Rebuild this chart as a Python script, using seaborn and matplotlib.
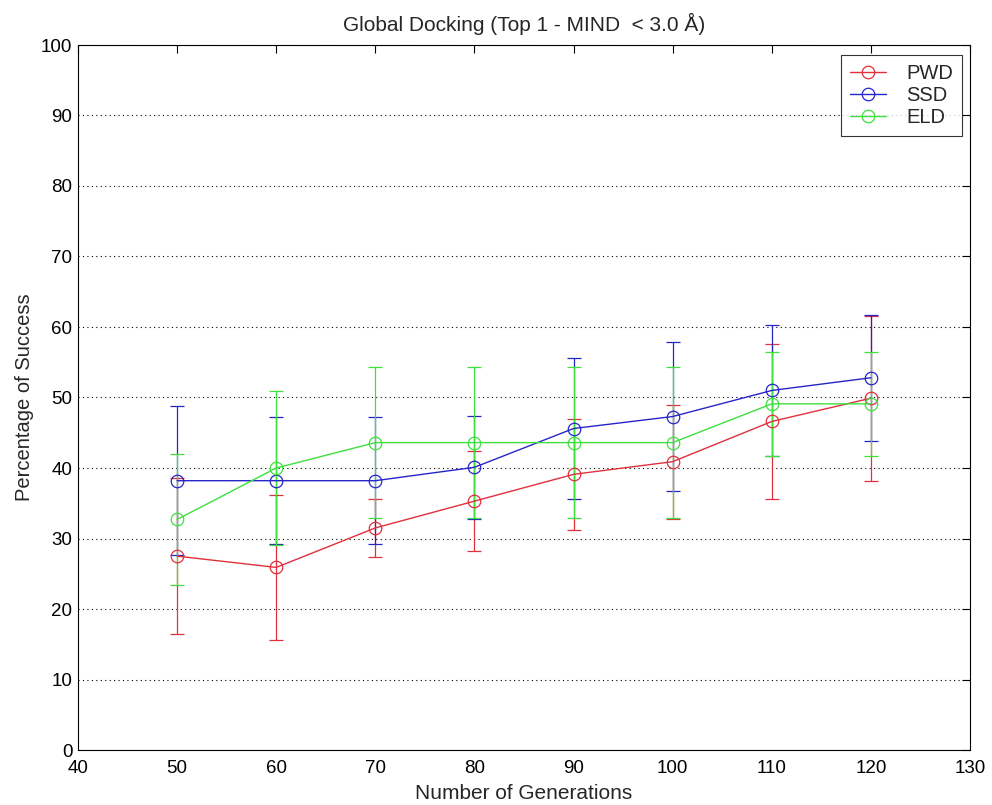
import matplotlib
matplotlib.use("Agg")
import matplotlib.pyplot as plt
import seaborn as sns
import pandas as pd
import numpy as np

generations = [50, 60, 70, 80, 90, 100, 110, 120]
pwd_mean = [27.5, 25.9, 31.5, 35.3, 39.1, 40.9, 46.6, 49.9]
pwd_err = [11.1, 10.3, 4.1, 7.05, 7.9, 8.1, 11.0, 11.7]
ssd_mean = [38.2, 38.2, 38.2, 40.1, 45.6, 47.3, 51.0, 52.8]
ssd_err = [10.6, 9.0, 9.0, 7.3, 10.0, 10.6, 9.3, 8.9]
eld_mean = [32.7, 40.0, 43.6, 43.6, 43.6, 43.6, 49.1, 49.1]
eld_err = [9.3, 10.9, 10.7, 10.7, 10.7, 10.7, 7.4, 7.4]

series = ["PWD", "SSD", "ELD"]
colors = {"PWD": "#e0303c", "SSD": "#2626c8", "ELD": "#3ee03e"}

df = pd.DataFrame({
    "gen": generations * 3,
    "val": pwd_mean + ssd_mean + eld_mean,
    "err": pwd_err + ssd_err + eld_err,
    "series": [s for s in series for _ in generations],
})

sns.set_style("white")
plt.rcParams['font.family'] = ['Liberation Sans', 'DejaVu Sans']

fig = plt.figure(figsize=(9.92, 8.05), dpi=100)
ax = fig.add_axes([78/992, 55/805, (970-78)/992, (750-45)/805])

for i, s in enumerate(series):
    sub = df[df.series == s]
    eb = ax.errorbar(sub.gen, sub.val, yerr=sub.err, fmt='none', ecolor=colors[s],
                     elinewidth=0.9, capsize=5, capthick=0.9, zorder=2 + i * 0.1)
    sns.lineplot(data=sub, x="gen", y="val", ax=ax, color=colors[s], label=s,
                 marker='o', markersize=9, markerfacecolor='none',
                 markeredgecolor=colors[s], markeredgewidth=0.9, linewidth=1.0,
                 zorder=3)

ax.set_xlim(40, 130)
ax.set_ylim(0, 100)
ax.set_xticks(np.arange(40, 131, 10))
ax.set_yticks(np.arange(0, 101, 10))
ax.yaxis.grid(True, linestyle=(0, (1, 3)), color='black', linewidth=0.8)
ax.xaxis.grid(False)
ax.tick_params(direction='in', top=True, right=True, length=6, width=0.8,
               labelsize=13.5, colors='black')
ax.tick_params(axis='x', pad=7)
ax.tick_params(axis='y', pad=4)
for sp in ax.spines.values():
    sp.set_color('black')
    sp.set_linewidth(0.8)

ax.set_xlabel("Number of Generations", fontsize=15, labelpad=5)
ax.set_ylabel("Percentage of Success", fontsize=14.5, labelpad=5)
ax.set_title("Global Docking (Top 1 - MIND  < 3.0 Å)", fontsize=15, pad=10)

leg = ax.legend(loc='upper right', fontsize=14.5, frameon=True, fancybox=False,
                edgecolor='black', borderpad=0.45, handlelength=1.8,
                labelspacing=0.15, handletextpad=1.0, borderaxespad=0,
                bbox_to_anchor=(0.991, 0.9858))
leg.get_frame().set_linewidth(0.8)

fig.savefig("out.png", dpi=100)
